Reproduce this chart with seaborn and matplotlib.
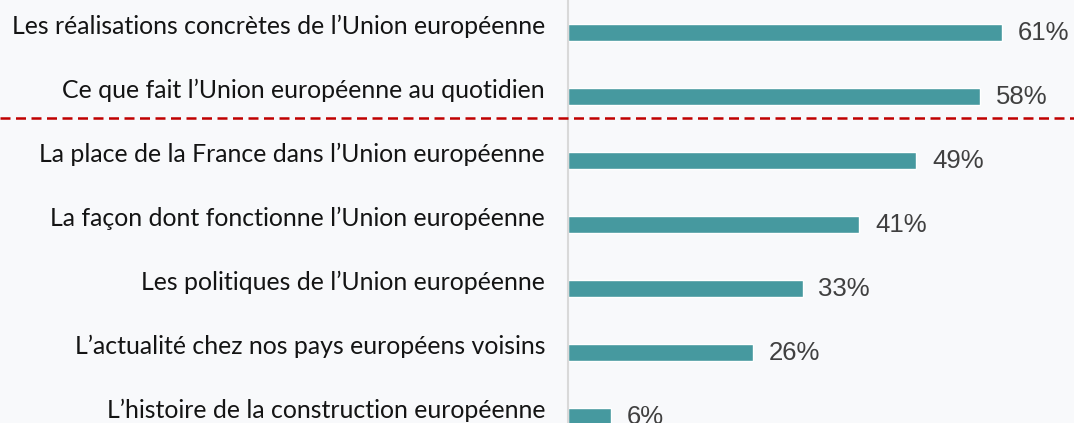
import matplotlib
matplotlib.use("Agg")
import matplotlib.pyplot as plt
import matplotlib.transforms as mtransforms
from matplotlib.lines import Line2D
import pandas as pd
import seaborn as sns

# --- DONNÉES ---
categories = [
    "Les réalisations concrètes de l’Union européenne",
    "Ce que fait l’Union européenne au quotidien",
    "La place de la France dans l’Union européenne",
    "La façon dont fonctionne l’Union européenne",
    "Les politiques de l’Union européenne",
    "L’actualité chez nos pays européens voisins",
    "L’histoire de la construction européenne",
]
values = [61, 58, 49, 41, 33, 26, 6]

BAR_COLOR = "#46999f"
BG_COLOR = "#f8f9fb"

sns.set_theme(style="white")

df = pd.DataFrame({"theme": categories, "pct": values})

fig = plt.figure(figsize=(10.74, 4.23), dpi=100)
fig.patch.set_facecolor(BG_COLOR)
ax = fig.add_axes([568 / 1074, 0, 1 - 568 / 1074, 1])
ax.set_facecolor(BG_COLOR)

sns.barplot(data=df, y="theme", x="pct", orient="h", color=BAR_COLOR,
            width=0.27, saturation=1, ax=ax)

n = len(categories)
ax.set_xlim(0, 71.2)
ax.set_ylim(n - 0.90, -0.508)

# étiquettes de valeurs
ax.bar_label(ax.containers[0], fmt="{:.0f}%", padding=11.5, fontsize=18.5,
             color="#404040", family=["Liberation Sans", "DejaVu Sans"])

# libellés des catégories (un peu au-dessus des barres)
ax.set_yticks([i - 0.13 for i in range(n)])
ax.set_yticklabels(categories, fontsize=17.9, color="#141414",
                   family=["Lato", "DejaVu Sans"])
ax.tick_params(axis="y", which="major", length=0, pad=16.5)
ax.set_yticks([i + 0.383 for i in range(n - 1)], minor=True)
ax.tick_params(axis="y", which="minor", length=6, width=1.5, color="#d9d9d9")

ax.set_xticks([])
ax.set_xlabel("")
ax.set_ylabel("")
for side in ["top", "right", "bottom"]:
    ax.spines[side].set_visible(False)
ax.spines["left"].set_color("#d9d9d9")
ax.spines["left"].set_linewidth(1.5)

# séparation en pointillés rouges entre les deux premiers thèmes et les autres
trans = mtransforms.blended_transform_factory(fig.transFigure, ax.transData)
fig.add_artist(Line2D([0, 1], [1.33, 1.33], transform=trans, color="#c00000",
                      linewidth=1.8, linestyle=(0, (4, 2.2))))

plt.savefig("out.png", dpi=100, facecolor=BG_COLOR)
plt.close()
